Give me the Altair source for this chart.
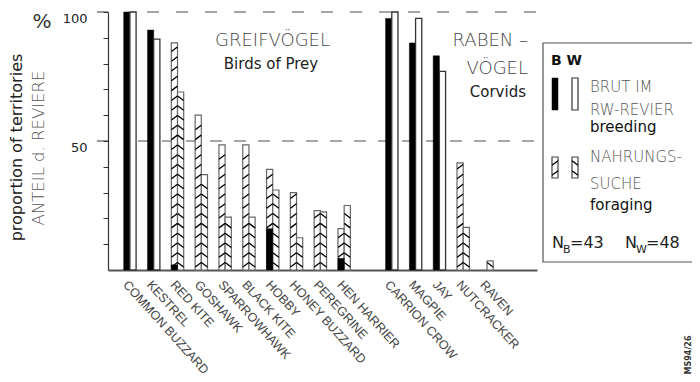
import altair as alt
import pandas as pd

# ---------------- data ----------------
raptors = ["COMMON BUZZARD", "KESTREL", "RED KITE", "GOSHAWK", "SPARROWHAWK",
           "BLACK KITE", "HOBBY", "HONEY BUZZARD", "PEREGRINE", "HEN HARRIER"]
corvids = ["CARRION CROW", "MAGPIE", "JAY", "NUTCRACKER", "RAVEN"]
species = raptors + corvids
gap = " "
tail = "  "

# B = breeding birds, W = wintering birds  (% of territories)
b_breeding = [100, 93, 2, 0, 0, 0, 16, 0, 0, 4.5, 97.5, 88, 83, 0, 0]
b_foraging = [0, 0, 88, 60, 48.5, 48.5, 39, 30, 23, 16, 0, 0, 0, 41.5, 0]
w_breeding = [100, 89.5, 0, 0, 0, 0, 0, 0, 0, 0, 100, 97.5, 77, 0, 0]
w_foraging = [0, 0, 69, 37, 20.5, 20.5, 31, 12.5, 22.5, 25, 0, 0, 0, 16.5, 3.5]

groups = ["B", "W"]
y_ticks = [10, 20, 30, 40, 50, 60, 70, 80, 90, 100]
major_ticks = [100, 50]

rows = []
for i, s in enumerate(species):
    rows.append(dict(species=s, grp="B", kind="breeding", value=b_breeding[i]))
    rows.append(dict(species=s, grp="B", kind="foraging", value=b_foraging[i]))
    rows.append(dict(species=s, grp="W", kind="breeding", value=w_breeding[i]))
    rows.append(dict(species=s, grp="W", kind="foraging", value=w_foraging[i]))
df = pd.DataFrame(rows)
one = pd.DataFrame({"k": [0]})

W, H = 429, 258
SLASH = "M-1,0.75L1,-0.75"
BACKSLASH = "M-1,-0.75L1,0.75"

yscale = alt.Scale(domain=[0, 100], nice=False, zero=True)
yaxis = alt.Axis(values=y_ticks, tickSize=5, tickColor="#333", tickWidth=1,
                 domainColor="#333", domainWidth=1.2,
                 labelExpr="datum.value == 50 || datum.value == 100 ? datum.label : ''",
                 labelFont="DejaVu Sans", labelFontSize=13, labelColor="#222",
                 labelBaseline="top", labelPadding=16, labelFlush=False,
                 grid=False, title=None)
xscale = alt.Scale(domain=raptors + [gap] + corvids + [tail], paddingInner=0.48,
                   paddingOuter=0.75, align=0.44)
xaxis = alt.Axis(title=None, ticks=False, domainColor="#555", domainWidth=2,
                 labelAngle=48, labelAlign="left", labelBaseline="top",
                 labelPadding=8, labelFont="Liberation Sans", labelFontSize=12.5,
                 labelColor="#444", labelOverlap=False, labelLimit=300)


def X():
    return alt.X("species:N", scale=xscale, axis=xaxis)


def XO():
    return alt.XOffset("grp:N", scale=alt.Scale(domain=groups, paddingInner=0, paddingOuter=0))


def Y(field):
    return alt.Y(field, type="quantitative", scale=yscale, axis=yaxis)


base = alt.Chart(df)
layers = []

# dashed reference lines
layers.append(alt.Chart(one).mark_rule(stroke="#888", strokeWidth=1.5, strokeDash=[12, 17]).encode(
    y=alt.Y(datum=100, type="quantitative", scale=yscale, axis=yaxis),
    x=alt.value(39), x2=alt.value(W)))
layers.append(alt.Chart(one).mark_rule(stroke="#888", strokeWidth=1.5, strokeDash=[12, 12]).encode(
    y=alt.Y(datum=50, type="quantitative", scale=yscale, axis=yaxis),
    x=alt.value(30), x2=alt.value(W)))

# longer major ticks at 50 and 100
for v in major_ticks:
    layers.append(alt.Chart(one).mark_rule(stroke="#333", strokeWidth=1).encode(
        y=alt.Y(datum=v, type="quantitative", scale=yscale, axis=yaxis),
        x=alt.value(-11), x2=alt.value(0)))

forage = base.transform_filter("datum.kind == 'foraging' && datum.value > 0")
layers.append(forage.mark_bar(fill="white", stroke="#666", strokeWidth=1.2).encode(
    x=X(), xOffset=XO(), y=Y("value")))

# hatching of the foraging bars
layers.append(forage.transform_calculate(level="sequence(2, datum.value - 1, 3.8)")
              .transform_flatten(["level"])
              .mark_point(filled=False, stroke="black", strokeWidth=1.3, size=36, opacity=1)
              .encode(x=X(), xOffset=XO(), y=Y("level"),
                      shape=alt.Shape("grp:N", scale=alt.Scale(domain=groups, range=[SLASH, BACKSLASH]),
                                      legend=None)))

layers.append(base.transform_filter("datum.kind == 'breeding' && datum.grp == 'B' && datum.value > 0")
              .mark_bar(fill="black", stroke="black", strokeWidth=0.5)
              .encode(x=X(), xOffset=XO(), y=Y("value")))
layers.append(base.transform_filter("datum.kind == 'breeding' && datum.grp == 'W' && datum.value > 0")
              .mark_bar(fill="white", stroke="#333", strokeWidth=1.3)
              .encode(x=X(), xOffset=XO(), y=Y("value")))


def label(text, x, y, size, color="#444", align="left", weight="normal", angle=0, font="DejaVu Sans"):
    return alt.Chart(one).mark_text(text=text, fontSize=size, color=color, align=align,
                                    baseline="alphabetic", fontWeight=weight, angle=angle,
                                    font=font).encode(x=alt.value(x), y=alt.value(y))


def box(x, x2, y, y2, fill, stroke, sw=1.2):
    return alt.Chart(one).mark_rect(fill=fill, stroke=stroke, strokeWidth=sw).encode(
        x=alt.value(x), x2=alt.value(x2), y=alt.value(y), y2=alt.value(y2))


# group annotations
layers.append(label("GREIFVÖGEL", 164.5, 34, 18, "#444", "center", weight=200))
layers.append(label("Birds of Prey", 163, 56.5, 15, "#222", "center"))
layers.append(label("RABEN –", 420, 34, 18, "#444", "right", weight=200))
layers.append(label("VÖGEL", 420, 62, 18, "#444", "right", weight=200))
layers.append(label("Corvids", 418, 85, 15, "#222", "right"))

# y titles
layers.append(label("%", -66, 16, 20, "#333", "center"))
layers.append(label("proportion of territories", -86, 135.5, 16, "#222", "center", angle=270))
layers.append(label("ANTEIL d. REVIERE", -64, 136, 16.5, "#555", "center", angle=270, weight=200))

# legend box
layers.append(alt.Chart(one).mark_rect(fillOpacity=0, stroke="#555", strokeWidth=1.2).encode(
    x=alt.value(435), x2=alt.value(586), y=alt.value(31), y2=alt.value(250)))
layers.append(label("B W", 443, 53, 14, "#111", weight="bold"))
layers.append(box(444, 450, 66, 98, "black", "black", 0.5))
layers.append(box(464, 470, 66, 98, "white", "#333"))
layers.append(box(444, 450, 145, 166, "white", "#444"))
layers.append(box(464, 470, 145, 166, "white", "#444"))
for yy in [151, 161]:
    layers.append(alt.Chart(one).mark_point(filled=False, stroke="black", strokeWidth=1.3, size=36,
                                            shape=SLASH, opacity=1).encode(x=alt.value(447), y=alt.value(yy)))
    layers.append(alt.Chart(one).mark_point(filled=False, stroke="black", strokeWidth=1.3, size=36,
                                            shape=BACKSLASH, opacity=1).encode(x=alt.value(467), y=alt.value(yy)))
layers.append(label("BRUT  IM", 482, 80, 15, "#555", weight=200))
layers.append(label("RW-REVIER", 482, 103, 15, "#555", weight=200))
layers.append(label("breeding", 482, 120, 15, "#111"))
layers.append(label("NAHRUNGS-", 482, 150, 15, "#555", weight=200))
layers.append(label("SUCHE", 482, 177, 15, "#555", weight=200))
layers.append(label("foraging", 482, 198, 15, "#111"))
layers.append(label("N", 444, 236, 16, "#222"))
layers.append(label("B", 455, 241, 11, "#222"))
layers.append(label("=43", 462, 236, 16, "#222"))
layers.append(label("N", 517, 236, 16, "#222"))
layers.append(label("W", 528, 241, 11, "#222"))
layers.append(label("=48", 538, 236, 16, "#222"))

# figure code
layers.append(label("MS94/26", 583, 343, 8, "#333", "center", weight="bold", angle=270))

chart = alt.layer(*layers).properties(
    width=W, height=H,
    autosize=alt.AutoSizeParams(type="none"),
    padding={"left": 100, "top": 4, "right": 155, "bottom": 104},
    background="white",
).configure_view(stroke=None)

chart.save("out.html", embed_options={"renderer": "svg", "actions": False})
